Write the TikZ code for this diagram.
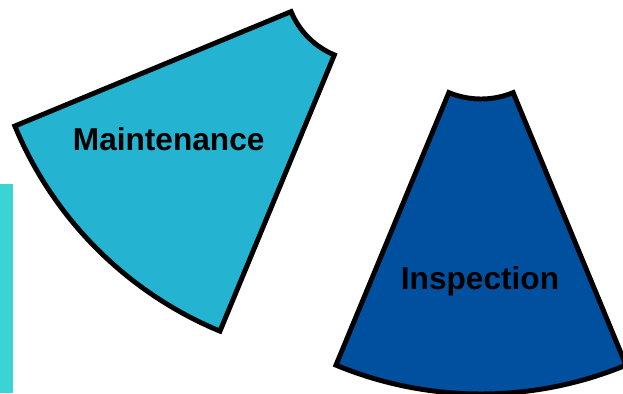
\documentclass[tikz,border=0pt]{standalone}
\usepackage{fontspec}
\setmainfont{Liberation Sans}
\definecolor{maintcol}{RGB}{36,180,209}
\definecolor{inspcol}{RGB}{0,80,160}
\definecolor{stripcol}{RGB}{58,212,212}
\begin{document}
\begin{tikzpicture}[x=0.02cm,y=0.02cm,
  segment/.style={draw=black,line width=2.8pt},
  lbl/.style={anchor=base,inner sep=0pt,font=\fontsize{18}{20}\selectfont\bfseries}]
\useasboundingbox (0,0) rectangle (623,393);
\fill[stripcol] (0,0) rectangle (13,209);
\coordinate (mc) at (365,412);
\coordinate (ic) at (481,378);
\draw[segment,fill=maintcol] ([shift={(mc)}]202.5:379) arc[start angle=202.5,end angle=247.5,radius=379]
  -- ([shift={(mc)}]247.5:80) arc[start angle=247.5,end angle=202.5,radius=80] -- cycle;
\draw[segment,fill=inspcol] ([shift={(ic)}]247.5:379) arc[start angle=247.5,end angle=292.5,radius=379]
  -- ([shift={(ic)}]292.5:84) arc[start angle=292.5,end angle=247.5,radius=84] -- cycle;
\node[lbl] (maint) at (168.7,242.3) {Maintenance};
\node[lbl] (insp) at (480,103.5) {Inspection};
\end{tikzpicture}
\end{document}
